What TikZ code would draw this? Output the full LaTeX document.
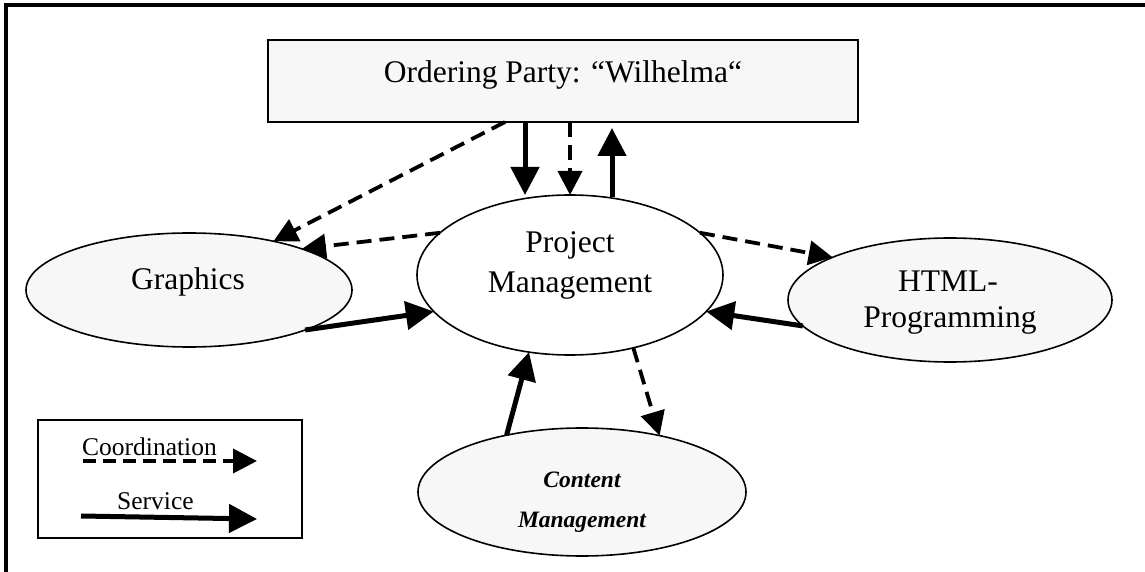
\documentclass[tikz,border=0pt]{standalone}
\usepackage{fontspec}
\setmainfont{Liberation Serif}
\usetikzlibrary{arrows.meta,shapes.geometric,calc}
\definecolor{boxfill}{HTML}{F7F7F7}
\begin{document}
\begin{tikzpicture}[x=1bp,y=-1bp,
  bigtext/.style={font=\fontsize{31.5bp}{36bp}\selectfont, inner sep=0, anchor=base},
  cmtext/.style={font=\fontsize{23.5bp}{28bp}\selectfont\bfseries\itshape, inner sep=0, anchor=base},
  legtext/.style={font=\fontsize{25.5bp}{30bp}\selectfont, inner sep=0, anchor=base west},
  ell/.style={ellipse, draw, line width=1.6bp, inner sep=0, outer sep=0},
  svc/.style={line width=5bp, -{Triangle[length=28bp,width=28bp]}},
  crd/.style={line width=3.8bp, dash pattern=on 15bp off 8bp, -{Triangle[length=24bp,width=24bp]}}
]
\useasboundingbox (0,0) rectangle (1145,572);
% frame
\draw[line width=3.5bp] (6,572) -- (6,5) -- (1145,5);
% ordering party box
\node[draw, fill=boxfill, line width=1.6bp, minimum width=590bp, minimum height=82bp, inner sep=0, outer sep=0] (op) at (563,81) {};
\node[bigtext] (optext) at (563,83) {Ordering Party: “Wilhelma“};
% ellipses
\node[ell, fill=boxfill, minimum width=326bp, minimum height=114bp] (g) at (189,290) {};
\node[bigtext] (gtext) at (188,290) {Graphics};
\node[ell, fill=white, minimum width=306bp, minimum height=160bp] (pm) at (570,275) {};
\node[bigtext] (pmtext1) at (570,253) {Project};
\node[bigtext] (pmtext2) at (570,293) {Management};
\node[ell, fill=boxfill, minimum width=324bp, minimum height=124bp] (h) at (950,300) {};
\node[bigtext] (htext1) at (948,292) {HTML-};
\node[bigtext] (htext2) at (950,328) {Programming};
\node[ell, fill=boxfill, minimum width=328bp, minimum height=128bp] (cm) at (582,492) {};
\node[cmtext] (cmtext1) at (582,487) {Content};
\node[cmtext] (cmtext2) at (582,527) {Management};
% connectors
\draw[svc] ($(op.south)+(-38,0)$) -- ($(pm.north)+(-45,0)$);
\draw[crd] ($(op.south)+(7,0)$) -- (pm.north);
\draw[svc] ($(pm.north)+(42,2)$) -- ($(op.south)+(49,6)$);
\draw[crd] ($(op.south)+(-58,0)$) -- (g.30);
\draw[crd] (pm.162) -- (g.20);
\draw[svc] (g.-19) -- (pm.195);
\draw[crd] (pm.18) -- (h.160);
\draw[svc] (h.190) -- (pm.345);
\draw[svc] (cm.143) -- (pm.242);
\draw[crd] (pm.311) -- (cm.36);
% legend
\node[draw, line width=1.5bp, minimum width=264bp, minimum height=118bp, inner sep=0, outer sep=0] (leg) at (170,479) {};
\node[legtext] (lc) at (82,455) {Coordination};
\node[legtext] (ls) at (117,509) {Service};
\coordinate (c1) at (83,461);
\coordinate (c2) at (257,461);
\coordinate (s1) at (81,516);
\coordinate (s2) at (257,519);
\draw[crd, dash pattern=on 13bp off 7bp] (c1) -- (c2);
\draw[svc] (s1) -- (s2);
\end{tikzpicture}
\end{document}
